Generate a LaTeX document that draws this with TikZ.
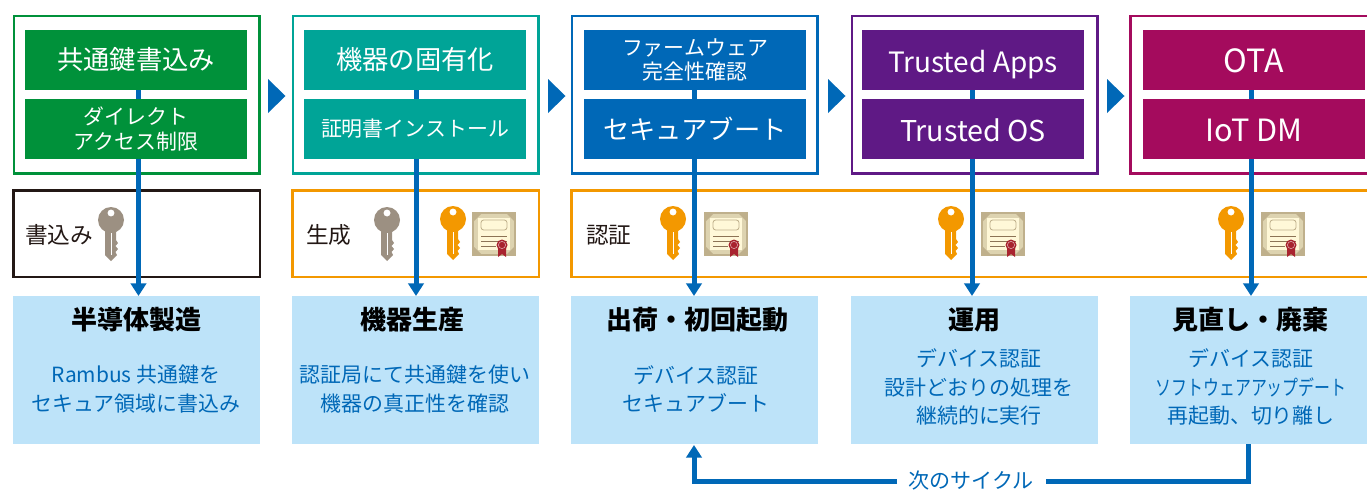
\documentclass[tikz,border=0pt]{standalone}
\usepackage{fontspec}
\setmainfont{Noto Sans CJK JP}
\usetikzlibrary{arrows.meta}
\definecolor{cgreen}{HTML}{00913A}
\definecolor{cteal}{HTML}{00A497}
\definecolor{cblue}{HTML}{0068B7}
\definecolor{cpurple}{HTML}{5F1985}
\definecolor{cmag}{HTML}{A40B5D}
\definecolor{corange}{HTML}{F39800}
\definecolor{cpale}{HTML}{BDE3F9}
\definecolor{cgrey}{HTML}{9C9082}
\definecolor{cblack}{HTML}{231815}
\definecolor{certo}{HTML}{DDD3B0}
\definecolor{certb}{HTML}{BFB08C}
\definecolor{certi}{HTML}{FFF8D8}
\definecolor{certl}{HTML}{8C7355}
\definecolor{seal}{HTML}{A8232F}
\tikzset{
  x=0.75pt,y=-0.75pt,
  frame/.style={draw,line width=2pt,minimum width=184pt,minimum height=118pt,inner sep=0,outer sep=0},
  inbox/.style={minimum width=166.5pt,minimum height=45pt,inner sep=0,outer sep=0,text=white,align=center,font=\fontsize{19.7}{22}\selectfont},
  small/.style={font=\fontsize{15.7}{18.5}\selectfont},
  latinbox/.style={font=\fontsize{#1}{24}\selectfont},
  keyframe/.style={draw,line width=1.9pt,minimum height=65pt,inner sep=0,outer sep=0},
  stage/.style={fill=cpale,minimum width=185pt,minimum height=111pt,inner sep=0,outer sep=0},
  ttl/.style={font=\fontsize{19.5}{21}\selectfont\bfseries,text=black,inner sep=0},
  desc/.style={font=\fontsize{15.7}{21.2}\selectfont,text=cblue,align=center,inner sep=0},
  link/.style={draw=cblue,line width=3.75pt},
  flow/.style={link,-{Triangle[length=9.5pt,width=11.5pt]}},
  lbl/.style={font=\fontsize{17}{18}\selectfont,text=cblack,inner sep=0}
}
\newcommand{\rz}[1]{\raisebox{-9.3pt}[0pt][0pt]{#1}}
\newcommand{\keyicon}[3]{% head centre x y, colour
 \begin{scope}[shift={(#1,#2)}]
  \fill[#3,even odd rule] (0,0) circle (13) (0,-7) circle (3.6);
  \fill[#3] (-6,8) -- (5,8) -- (5,20) -- (7,23) -- (4.5,26) -- (7,29) -- (4.5,32) -- (6,35) -- (0,41) -- (-6,35) -- cycle;
  \fill[white] (-.5,13) rectangle (1.2,35);
 \end{scope}}
\newcommand{\certicon}[2]{% centre x y
 \begin{scope}[shift={(#1,#2)}]
  \fill[fill=certo,draw=certb,line width=.8pt] (-21,-21) rectangle (21,21);
  \fill[fill=certi] (-16,-16) rectangle (16,16);
  \fill[certb] (-20,-20) -- (-13,-20) -- (-20,-13) -- cycle (20,-20) -- (13,-20) -- (20,-13) -- cycle (-20,20) -- (-13,20) -- (-20,13) -- cycle (20,20) -- (13,20) -- (20,13) -- cycle;
  \draw[certb,line width=.6pt,fill=certi,rounded corners=2pt] (-13,-14) rectangle (13,-4);
  \draw[certl,line width=.7pt] (-13,2) -- (13,2) (-13,7) -- (13,7) (-13,12) -- (2,12);
  \fill[seal] (4,12) -- (4,23) -- (8,20) -- (12,23) -- (12,12) -- cycle;
  \fill[seal] (8,11) circle (5.5);
  \draw[white!60!seal,line width=.4pt] (8,11) circle (3.6);
 \end{scope}}
\begin{document}
\begin{tikzpicture}
\useasboundingbox (0,0) rectangle (1367,489);
\fill[white] (0,0) rectangle (1367,489);
\begin{scope}
\clip (0,0) rectangle (1367,489);
% frames
\node[frame,draw=cgreen]  (f1) at (136.5,94.5) {};
\node[frame,draw=cteal]   (f2) at (415.5,94.5) {};
\node[frame,draw=cblue]   (f3) at (694.5,94.5) {};
\node[frame,draw=cpurple] (f4) at (974.5,94.5) {};
\node[frame,draw=cmag,anchor=west] (f5) at (1130.5,94.5) {};
% inner upper
\node[inbox,fill=cgreen]  (a1) at (136,60) {共通鍵書込み};
\node[inbox,fill=cteal]   (a2) at (415,60) {機器の固有化};
\node[inbox,fill=cblue,small]   (a3) at (695,60) {ファームウェア\\完全性確認};
\node[inbox,fill=cpurple,latinbox=21] (a4) at (973,60) {\rz{Trusted Apps}};
\node[inbox,fill=cmag,latinbox=24]    (a5) at (1254,60) {\rz{OTA}};
% inner lower
\node[inbox,fill=cgreen,small]  (b1) at (136,129) {ダイレクト\\アクセス制限};
\node[inbox,fill=cteal,small]   (b2) at (415,129) {証明書インストール};
\node[inbox,fill=cblue]   (b3) at (695,129) {セキュアブート};
\node[inbox,fill=cpurple,latinbox=21.5] (b4) at (973,129) {\rz{Trusted OS}};
\node[inbox,fill=cmag,latinbox=23]    (b5) at (1254,129) {\rz{IoT DM}};
% stage arrows
\foreach \x in {268,548,828,1107}{\fill[cblue] (\x,79) -- (\x+17.5,96) -- (\x,113) -- cycle;}
% key frames
\node[keyframe,draw=cblack,minimum width=185pt,anchor=north west] (k1) at (13.5,190.5) {};
\node[keyframe,draw=corange,minimum width=185pt,anchor=north west] (k2) at (292.5,190.5) {};
\node[keyframe,draw=corange,minimum width=605pt,anchor=north west] (k3) at (571.5,190.5) {};
\node[lbl,anchor=west] (t1) at (25,235) {書込み};
\node[lbl,anchor=west] (t2) at (306,235) {生成};
\node[lbl,anchor=west] (t3) at (586,235) {認証};
\keyicon{111}{220}{cgrey}
\keyicon{387}{220}{cgrey}
\keyicon{453}{219}{corange}\certicon{494}{234}
\keyicon{673}{219}{corange}\certicon{726}{234}
\keyicon{951}{219}{corange}\certicon{1003}{234}
\keyicon{1231}{219}{corange}\certicon{1283}{234}
% stages
\node[stage,anchor=north west] (s1) at (13,296) {};
\node[stage,anchor=north west] (s2) at (292,296) {};
\node[stage,anchor=north west] (s3) at (571,296) {};
\node[stage,anchor=north west] (s4) at (851,296) {};
\node[stage,anchor=north west,minimum width=178pt] (s5) at (1130,296) {};
\node[ttl] (h1) at (136,320) {半導体製造};
\node[ttl] (h2) at (412,320) {機器生産};
\node[ttl] (h3) at (697,320) {出荷・初回起動};
\node[ttl] (h4) at (974,320) {運用};
\node[ttl] (h5) at (1250,320) {見直し・廃棄};
\node[desc] (d1) at (136,389) {Rambus 共通鍵を\\セキュア領域に書込み};
\node[desc] (d2) at (415,389) {認証局にて共通鍵を使い\\機器の真正性を確認};
\node[desc] (d3) at (696,389) {デバイス認証\\セキュアブート};
\node[desc] (d4) at (979,387) {デバイス認証\\設計どおりの処理を\\継続的に実行};
\node[desc] (d5) at (1251,387) {デバイス認証\\\scalebox{.76}[1]{ソフトウェアアップデート}\\再起動、切り離し};
% flows: visible in the gap between the boxes, then down to the stage
\foreach \xx/\n in {138.5/1,416/2,694/3,972/4,1251/5}{
  \draw[link] (\xx,90) -- (\xx,99);
  \draw[flow] (\xx,159) -- (\xx,296);
}
% cycle
\node[font=\fontsize{15.8}{17}\selectfont,text=cblue,inner sep=0] (cy) at (971,481) {次のサイクル};
\draw[link] (s5.south -| 1248.5,0) |- (cy.east -| 1046,0);
\draw[flow] (cy.west -| 897,0) -| (694,445);
\end{scope}
\end{tikzpicture}
\end{document}
